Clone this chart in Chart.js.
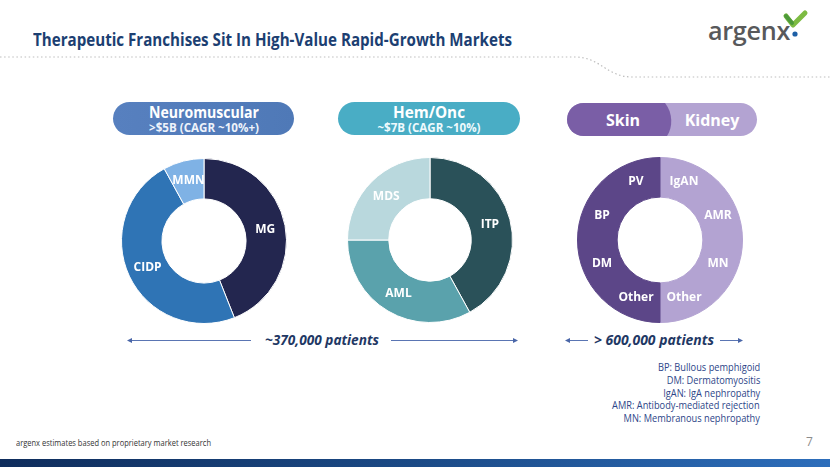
<!DOCTYPE html>
<html><head><meta charset="utf-8">
<script src="https://cdn.jsdelivr.net/npm/chart.js@4.4.0/dist/chart.umd.min.js"></script>
<style>
body{margin:0;width:830px;height:467px;overflow:hidden;background:#fff;font-family:"Open Sans",sans-serif;position:relative}
.abs{position:absolute;white-space:nowrap;line-height:1}
.pill{position:absolute;border-radius:17px;color:#fff;font-weight:bold;text-align:center}
canvas{position:absolute}
.leg{position:absolute;right:70px;font-size:10.5px;color:#2c4588;white-space:nowrap;line-height:1;transform:translateY(-50%) scaleX(0.88);transform-origin:right center}
</style></head><body>
<svg width="830" height="467" style="position:absolute;left:0;top:0">
  <path d="M0 57 H575 C600 57 607 77 632 77 H830" fill="none" stroke="#bdbdbd" stroke-width="1.2" stroke-dasharray="1.5 2.6"/>
  <defs>
    <linearGradient id="bar" x1="0" x2="1" y1="0" y2="0"><stop offset="0" stop-color="#0f2d5c"/><stop offset="0.5" stop-color="#1b4a86"/><stop offset="1" stop-color="#2d6ebb"/></linearGradient>
  </defs>
  <rect x="0" y="459" width="830" height="8" fill="url(#bar)"/>
  <path d="M786 16 L793 25 L805 13" fill="none" stroke="#7dbb42" stroke-width="5" stroke-linejoin="round" stroke-linecap="round"/>
  <path d="M786 16 L792 23" stroke="#4d9a3a" stroke-width="4" stroke-linecap="round"/>
  <circle cx="795" cy="34" r="2.6" fill="#1d5fa6"/>
  <g stroke="#5a75b3" stroke-width="1" fill="#4a66a8">
    <line x1="130" y1="340.5" x2="251" y2="340.5"/><path d="M127 340.5 l5 -2.5 v5z" stroke="none"/>
    <line x1="391" y1="340.5" x2="514" y2="340.5"/><path d="M518 340.5 l-5 -2.5 v5z" stroke="none"/>
    <line x1="568" y1="340.5" x2="588" y2="340.5"/><path d="M565 340.5 l5 -2.5 v5z" stroke="none"/>
    <line x1="720" y1="340.5" x2="739" y2="340.5"/><path d="M743 340.5 l-5 -2.5 v5z" stroke="none"/>
  </g>
</svg>
<div id="title" class="abs" style="left:33px;top:31px;font-size:17.5px;font-weight:bold;color:#1c3f72">Therapeutic Franchises Sit In High-Value Rapid-Growth Markets</div>
<div id="logo" class="abs" style="left:708px;top:18px;font-size:25px;color:#58595b;font-weight:600;letter-spacing:-0.3px">argenx</div>

<div class="pill" style="left:113px;top:102px;width:181px;height:33px;background:linear-gradient(90deg,#5780bf,#4f79b7)">
  <div class="abs fitc" data-w="110" style="left:90.5px;top:2px;font-size:16px">Neuromuscular</div>
  <div class="abs fitc" data-w="110" style="left:90.5px;top:20px;font-size:12.5px;color:#eef3fb">&gt;$5B (CAGR ~10%+)</div>
</div>
<div class="pill" style="left:338px;top:102px;width:182px;height:33px;background:#49adc5">
  <div class="abs fitc" data-w="72" style="left:91px;top:2px;font-size:16px">Hem/Onc</div>
  <div class="abs fitc" data-w="103" style="left:91px;top:20px;font-size:12.5px;color:#eefafd">~$7B (CAGR ~10%)</div>
</div>
<div class="pill" style="left:567px;top:103px;width:190px;height:33px;background:#b3a3d2;overflow:hidden">
  <svg width="190" height="33" style="position:absolute;left:0;top:0"><path d="M0 0 H98 C106 10 106 24 100 33 H0Z" fill="#7a5ea6"/></svg>
  <div class="abs" style="left:56px;top:9px;font-size:16px;transform:translateX(-50%)">Skin</div>
  <div class="abs" style="left:145px;top:9px;font-size:16px;transform:translateX(-50%)">Kidney</div>
</div>

<canvas id="c1" width="166" height="166" style="left:121px;top:158px"></canvas>
<canvas id="c2" width="166" height="166" style="left:347px;top:157px"></canvas>
<canvas id="c3" width="166" height="166" style="left:577px;top:157px"></canvas>

<div id="p1" class="abs" style="left:265px;top:333px;font-size:14.5px;font-weight:bold;font-style:italic;color:#1f3864">~370,000 patients</div>
<div id="p2" class="abs" style="left:594px;top:333px;font-size:14.5px;font-weight:bold;font-style:italic;color:#1f3864">&gt; 600,000 patients</div>

<div class="leg" style="top:367px">BP: Bullous pemphigoid</div>
<div class="leg" style="top:380px">DM: Dermatomyositis</div>
<div class="leg" style="top:392.5px">IgAN: IgA nephropathy</div>
<div class="leg" style="top:405px">AMR: Antibody-mediated rejection</div>
<div class="leg" style="top:418px">MN: Membranous nephropathy</div>
<div class="abs" style="left:806px;top:436px;font-size:12px;color:#8c8c8c">7</div>
<div id="foot" class="abs" style="left:16px;top:438px;font-size:9px;color:#333">argenx estimates based on proprietary market research</div>

<script>
const neuroLabels = ['MG', 'CIDP', 'MMN'];
const neuroValues = [44, 48, 8];
const neuroColors = ['#23264f', '#2f74b5', '#7fb2e5'];

const hemLabels = ['ITP', 'AML', 'MDS'];
const hemValues = [42, 33, 25];
const hemColors = ['#2a5159', '#5aa2ac', '#b9d8dd'];

const skinKidneyLabels = ['IgAN', 'AMR', 'MN', 'Other', 'Other', 'DM', 'BP', 'PV'];
const skinKidneyValues = [12.5, 12.5, 12.5, 12.5, 12.5, 12.5, 12.5, 12.5];
const skinKidneyColors = ['#b3a3d2','#b3a3d2','#b3a3d2','#b3a3d2','#5c4688','#5c4688','#5c4688','#5c4688'];

function fitW(el, w){
  const r = el.getBoundingClientRect().width;
  el.style.transformOrigin = 'left';
  el.style.transform = 'scaleX(' + (w/r) + ')';
}
document.querySelectorAll('.fitc').forEach(el=>{
  const r = el.getBoundingClientRect().width;
  el.style.transformOrigin='0 0';
  el.style.transform='scaleX('+(+el.dataset.w/r)+') translateX(-50%)';
});
fitW(document.getElementById('title'), 479);
fitW(document.getElementById('logo'), 82);
fitW(document.getElementById('p1'), 114);
fitW(document.getElementById('p2'), 120);
fitW(document.getElementById('foot'), 195);

const labelPlugin = {
  id: 'arcLabels',
  afterDatasetsDraw(chart) {
    const ctx = chart.ctx;
    const meta = chart.getDatasetMeta(0);
    ctx.save();
    ctx.fillStyle = '#ffffff';
    ctx.font = 'bold 12px "Open Sans", sans-serif';
    ctx.textAlign = 'center';
    ctx.textBaseline = 'middle';
    meta.data.forEach((arc, i) => {
      const p = arc.tooltipPosition();
      ctx.fillText(chart.data.labels[i], p.x, p.y);
    });
    ctx.restore();
  }
};

function makeChart(id, labels, values, colors, borderColor, cutout) {
  return new Chart(document.getElementById(id), {
    type: 'doughnut',
    data: { labels: labels, datasets: [{ data: values, backgroundColor: colors, borderColor: borderColor, borderWidth: 1 }] },
    options: {
      responsive: false, animation: false, cutout: cutout,
      layout: { padding: 0 },
      plugins: { legend: { display: false }, tooltip: { enabled: false } }
    },
    plugins: [labelPlugin]
  });
}
makeChart('c1', neuroLabels, neuroValues, neuroColors, '#ffffff', '51%');
makeChart('c2', hemLabels, hemValues, hemColors, '#ffffff', '50%');
makeChart('c3', skinKidneyLabels, skinKidneyValues, skinKidneyColors, skinKidneyColors, '52%');
</script>
</body></html>
